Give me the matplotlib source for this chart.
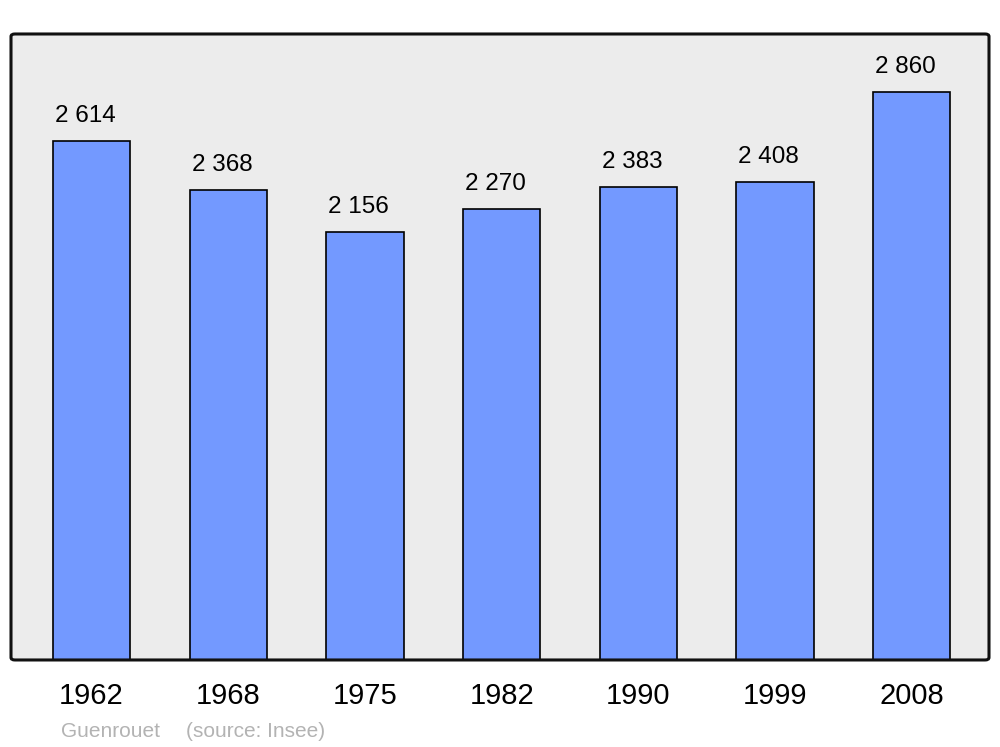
import matplotlib.pyplot as plt
from matplotlib.patches import FancyBboxPatch

plt.rcParams['font.family'] = ['Liberation Sans', 'DejaVu Sans']

# data
years = ['1962', '1968', '1975', '1982', '1990', '1999', '2008']
population = [2614, 2368, 2156, 2270, 2383, 2408, 2860]
value_labels = ['2 614', '2 368', '2 156', '2 270', '2 383', '2 408', '2 860']

fig = plt.figure(figsize=(10, 7.47), dpi=100)
ax = fig.add_axes([0.011, 0.1165, 0.978, 0.838])
ax.set_facecolor('#ececec')

x = range(len(years))
bars = ax.bar(x, population, width=0.565, color='#7399ff',
              edgecolor='black', linewidth=1.2, zorder=2)

for b, lab in zip(bars, value_labels):
    ax.annotate(lab, (b.get_x() + b.get_width() / 2, b.get_height()),
                xytext=(-4.5, 13.8), textcoords='offset points',
                ha='center', va='baseline', fontsize=17.5)

ax.set_xlim(-0.589, 6.565)
ax.set_ylim(0, 3152)
ax.set_xticks(list(x))
ax.set_xticklabels(years, fontsize=21)
ax.tick_params(axis='x', length=0, pad=16)
ax.set_yticks([])

# rounded frame instead of the plain spines
for s in ax.spines.values():
    s.set_visible(False)
frame = FancyBboxPatch((0, 0), 1, 1, boxstyle='round,pad=0,rounding_size=0.004',
                       transform=ax.transAxes, fill=False, edgecolor='#111111',
                       linewidth=2.2, zorder=5, clip_on=False)
ax.add_patch(frame)

fig.text(0.061, 0.0135, 'Guenrouet', fontsize=15,
         color='#b3b3b3', ha='left', va='baseline')
fig.text(0.186, 0.0135, '(source: Insee)', fontsize=15,
         color='#b3b3b3', ha='left', va='baseline')

fig.savefig('out.png', dpi=100)
